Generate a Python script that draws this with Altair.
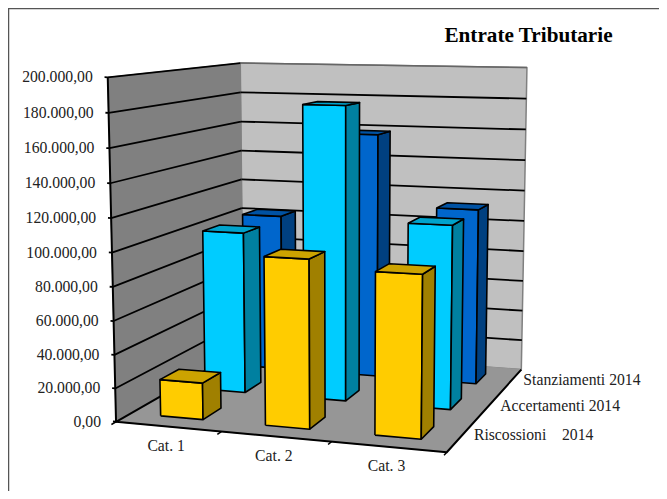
import numpy as np
import pandas as pd
import altair as alt

CATEGORIES = ["Cat. 1", "Cat. 2", "Cat. 3"]
SERIES = ["Riscossioni\u00a0\u00a0\u00a0\u00a02014", "Accertamenti 2014", "Stanziamenti 2014"]
RISCOSSIONI = [22000, 99000, 94000]
ACCERTAMENTI = [101000, 181000, 112000]
STANZIAMENTI = [102500, 158000, 112500]
Y_TICKS = [0, 20000, 40000, 60000, 80000, 100000, 120000, 140000, 160000, 180000, 200000]
Y_LABELS = ["0,00", "20.000,00", "40.000,00", "60.000,00", "80.000,00", "100.000,00",
            "120.000,00", "140.000,00", "160.000,00", "180.000,00", "200.000,00"]
TITLE = "Entrate Tributarie"
Y_MAX = 200000
# face colours per series: front, side, top
COLOURS = [("#FFCC00", "#A08000", "#CCA300"),
           ("#00CCFF", "#0080A0", "#00A3CC"),
           ("#0066CC", "#004080", "#0052A3")]
BAR_U = (0.29, 0.70)
BAR_V = (0.30, 0.71)

# camera calibration: box coordinates (u, v, w) against where they sit in the picture
CAL_BOX = [(0, 0, 0), (1, 0, 0), (0, 1, 0), (1, 1, 0), (0, 0, 1), (0, 1, 1), (1, 1, 1),
           (1/3, 0, 0), (2/3, 0, 0), (1, 1/3, 0), (1, 2/3, 0)]
CAL_PIC = [(116, 420), (446, 453), (244, 351), (520, 368), (108, 78), (240, 62), (527, 68),
           (220, 431), (332, 442), (477, 422), (500, 393)]

A, b = [], []
for (u, v, w), (px, py) in zip(CAL_BOX, CAL_PIC):
    A.append([u, v, w, 1, 0, 0, 0, 0, -px*u, -px*v, -px*w]); b.append(px)
    A.append([0, 0, 0, 0, u, v, w, 1, -py*u, -py*v, -py*w]); b.append(py)
sol = np.linalg.lstsq(np.array(A, float), np.array(b, float), rcond=None)[0]
P = np.append(sol, 1.0).reshape(3, 4)

def proj(u, v, w):
    r = P @ np.array([u, v, w, 1.0])
    return float(r[0]/r[2]), float(r[1]/r[2])

rows = []
def add(points, fill="transparent", stroke="#000000", sw=1.5, close=False):
    pid = len({r["poly"] for r in rows})
    pts = list(points) + ([points[0]] if close else [])
    for k, p in enumerate(pts):
        x, y = proj(*p)
        rows.append(dict(poly=pid, k=k, x=x, y=y, fill=fill, stroke=stroke, sw=sw))

# walls and floor
add([(0, 1, 0), (1, 1, 0), (1, 1, 1), (0, 1, 1)], "#C0C0C0", "#808080", 1.5, True)
add([(0, 0, 0), (0, 1, 0), (0, 1, 1), (0, 0, 1)], "#808080", "#808080", 1, True)
add([(0, 0, 0), (1, 0, 0), (1, 1, 0), (0, 1, 0)], "#969696", "#969696", 1, True)
# gridlines
for t in Y_TICKS[1:]:
    w = t / Y_MAX
    stroke = "#000000" if t < Y_MAX else "#666666"
    add([(0, 1, w), (1, 1, w)], stroke=stroke, sw=1.8 if t < Y_MAX else 1.5)
for t in Y_TICKS[1:]:
    w = t / Y_MAX
    add([(-0.01, 0, w), (0, 0, w), (0, 1, w)], sw=1.8)
# axis edges and ticks
add([(0, 0, 1), (0, 0, 0), (-0.01, 0, 0)], sw=2)
add([(0, 1, 0), (0, 0, 0), (1, 0, 0), (1, 1, 0)], sw=2)
for k in range(4):
    add([(k/3, 0, 0), (k/3, -0.03, 0)], sw=1.5)

# bars, back row first
n_c, n_s = len(CATEGORIES), len(SERIES)
ALL = [RISCOSSIONI, ACCERTAMENTI, STANZIAMENTI]
for s in reversed(range(n_s)):
    for c in range(n_c):
        u0, u1 = (c + BAR_U[0]) / n_c, (c + BAR_U[1]) / n_c
        v0, v1 = (s + BAR_V[0]) / n_s, (s + BAR_V[1]) / n_s
        w = ALL[s][c] / Y_MAX
        front, side, top = COLOURS[s]
        add([(u0, v0, 0), (u1, v0, 0), (u1, v0, w), (u0, v0, w)], front, "#000000", 1.6, True)
        add([(u1, v0, 0), (u1, v1, 0), (u1, v1, w), (u1, v0, w)], side, "#000000", 1.6, True)
        add([(u0, v0, w), (u1, v0, w), (u1, v1, w), (u0, v1, w)], top, "#000000", 1.6, True)

df = pd.DataFrame(rows)
X = alt.X("x:Q", scale=alt.Scale(domain=[8, 659], range=[0, 651]), axis=None)
Y = alt.Y("y:Q", scale=alt.Scale(domain=[8, 491], range=[0, 483]), axis=None)

polys = alt.Chart(df).mark_line(strokeJoin="round", clip=False).encode(
    x=X, y=Y,
    detail="poly:N",
    order="k:Q",
    fill=alt.Fill("fill:N", scale=None),
    stroke=alt.Stroke("stroke:N", scale=None),
    strokeWidth=alt.StrokeWidth("sw:Q", scale=None),
)

# frame
frame = pd.DataFrame({"x": [8.5, 8.5, 659], "y": [491, 8.5, 8.5], "k": [0, 1, 2]})
frame_l = alt.Chart(frame).mark_line(color="#555555", strokeWidth=1.5).encode(x=X, y=Y, order="k:Q")

FONT = "Liberation Serif"
TXT = "#222222"
ylab = []
for t, lab in zip(Y_TICKS, Y_LABELS):
    x, y = proj(0, 0, t / Y_MAX)
    ylab.append(dict(x=x - 15, y=y, t=lab))
clab = []
for i, lab in enumerate(CATEGORIES):
    x, y = proj((i + .5) / n_c, 0, 0)
    clab.append(dict(x=x - 2, y=y + 19, t=lab))
slab = []
for i, lab in enumerate(SERIES):
    x, y = proj(1, (i + .5) / n_s, 0)
    slab.append(dict(x=x + 12.5, y=y - 1, t=lab))

def text(data, align, size=15.7, weight="normal", color=TXT):
    return alt.Chart(pd.DataFrame(data)).mark_text(
        align=align, baseline="middle", font=FONT, fontSize=size, fontWeight=weight, color=color
    ).encode(x=X, y=Y, text="t:N")

chart = alt.layer(
    frame_l, polys,
    text(ylab, "right"), text(clab, "center"), text(slab, "left"),
    text([dict(x=528.5, y=35.5, t=TITLE)], "center", 21.2, "bold", "#000000"),
).properties(
    width=651, height=483, padding=0, background="white",
    autosize=alt.AutoSizeParams(type="none"),
).configure_view(strokeWidth=0)

chart.save("out.html", embed_options={"renderer": "svg", "actions": False})
